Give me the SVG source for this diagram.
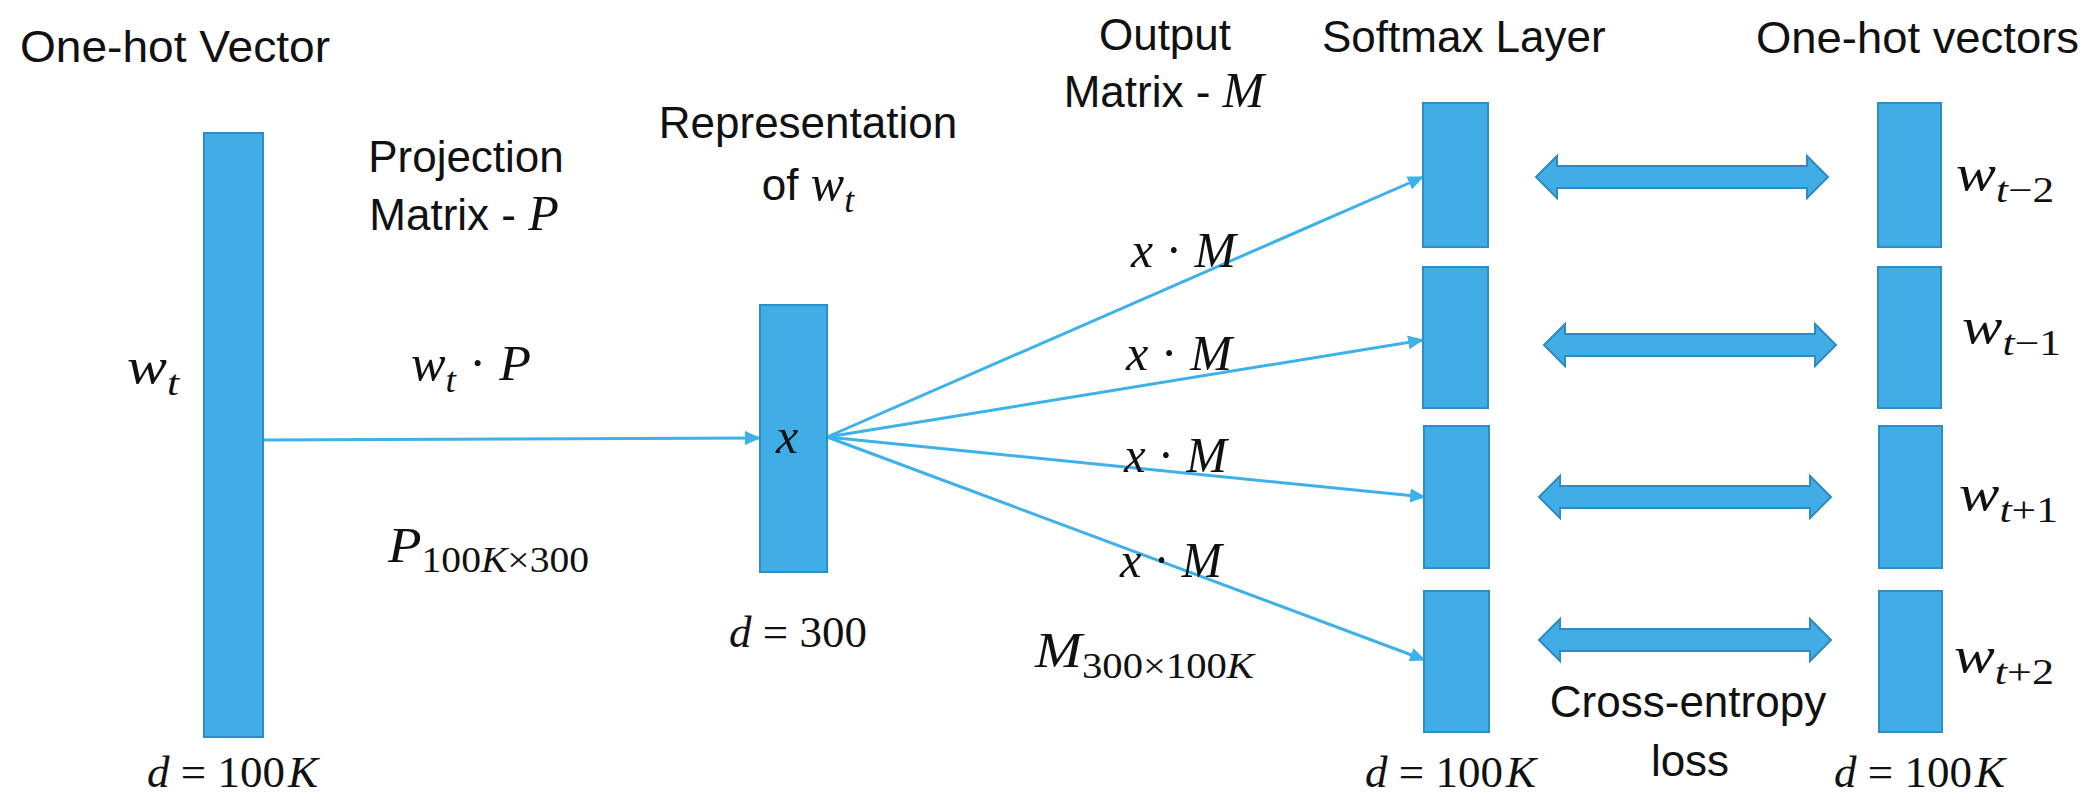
<svg xmlns="http://www.w3.org/2000/svg" width="2094" height="799" viewBox="0 0 2094 799">
  <style>
    .bar { fill: #41ADE6; stroke: #2F8DC5; stroke-width: 2; }
    .link { stroke: #3DB1EA; stroke-width: 3; fill: none; }
    .dbl { fill: #41ADE6; stroke: #2F8AC2; stroke-width: 2; stroke-linejoin: miter; }
    .lbl { font-family: "Liberation Sans", Arial, sans-serif; font-size: 44px; fill: #111; }
    .mth { font-family: "Liberation Serif", "Times New Roman", serif; font-size: 50px; fill: #111; }
    .dim { font-size: 45px; }
    .mi { font-style: italic; }
    .sub { font-size: 36px; }
  </style>
  <defs>
    <marker id="tip" markerUnits="userSpaceOnUse" markerWidth="16" markerHeight="14" refX="15" refY="7" orient="auto">
      <path d="M0,0 L16,7 L0,14 Z" fill="#3DB1EA"/>
    </marker>
    <path id="twoway" class="dbl" d="M0,0 L21,-21 L21,-11 L271,-11 L271,-21 L292,0 L271,21 L271,11 L21,11 L21,21 Z"/>
  </defs>

  <!-- connectors -->
  <g id="connectors">
    <line class="link" x1="264" y1="440" x2="760" y2="438" marker-end="url(#tip)"/>
    <line class="link" x1="827" y1="437" x2="1423" y2="177" marker-end="url(#tip)"/>
    <line class="link" x1="827" y1="437" x2="1423" y2="340" marker-end="url(#tip)"/>
    <line class="link" x1="827" y1="437" x2="1425" y2="497" marker-end="url(#tip)"/>
    <line class="link" x1="827" y1="437" x2="1425" y2="660" marker-end="url(#tip)"/>
    <use href="#twoway" x="1536" y="177"/>
    <use href="#twoway" x="1544" y="345"/>
    <use href="#twoway" x="1539" y="497"/>
    <use href="#twoway" x="1539" y="640"/>
  </g>

  <!-- input one-hot vector -->
  <g id="input">
    <text class="lbl" x="20" y="62" textLength="310" lengthAdjust="spacingAndGlyphs">One-hot Vector</text>
    <rect class="bar" x="204" y="133" width="59" height="604"/>
    <text class="mth mi" x="127" y="383" textLength="52" lengthAdjust="spacingAndGlyphs">w<tspan class="sub" dy="12">t</tspan></text>
    <text class="mth dim" x="147" y="787"><tspan class="mi">d</tspan> = 100<tspan class="mi" dx="3">K</tspan></text>
  </g>

  <!-- projection matrix -->
  <g id="projection">
    <text class="lbl" x="466" y="172" text-anchor="middle">Projection</text>
    <text class="lbl" x="464" y="230" text-anchor="middle">Matrix - <tspan class="mth mi">P</tspan></text>
    <text class="mth" x="411" y="380" textLength="120" lengthAdjust="spacingAndGlyphs"><tspan class="mi">w</tspan><tspan class="sub mi" dy="12">t</tspan><tspan dy="-12"> · </tspan><tspan class="mi">P</tspan></text>
    <text class="mth" x="388" y="562" textLength="201" lengthAdjust="spacingAndGlyphs"><tspan class="mi">P</tspan><tspan class="sub" dy="10">100<tspan class="mi">K</tspan>×300</tspan></text>
  </g>

  <!-- hidden representation -->
  <g id="hidden">
    <text class="lbl" x="808" y="138" text-anchor="middle">Representation</text>
    <text class="lbl" x="808" y="200" text-anchor="middle">of <tspan class="mth mi">w</tspan><tspan class="mth mi sub" dy="12">t</tspan></text>
    <rect class="bar" x="760" y="305" width="67" height="267"/>
    <text class="mth mi" x="776" y="453">x</text>
    <text class="mth dim" x="729" y="647"><tspan class="mi">d</tspan> = 300</text>
  </g>

  <!-- output matrix -->
  <g id="output-matrix">
    <text class="lbl" x="1165" y="50" text-anchor="middle">Output</text>
    <text class="lbl" x="1164" y="107" text-anchor="middle">Matrix - <tspan class="mth mi">M</tspan></text>
    <text class="mth" x="1131" y="267" textLength="105" lengthAdjust="spacingAndGlyphs"><tspan class="mi">x</tspan> · <tspan class="mi">M</tspan></text>
    <text class="mth" x="1126" y="370" textLength="106" lengthAdjust="spacingAndGlyphs"><tspan class="mi">x</tspan> · <tspan class="mi">M</tspan></text>
    <text class="mth" x="1124" y="472" textLength="103" lengthAdjust="spacingAndGlyphs"><tspan class="mi">x</tspan> · <tspan class="mi">M</tspan></text>
    <text class="mth" x="1120" y="577" textLength="102" lengthAdjust="spacingAndGlyphs"><tspan class="mi">x</tspan> · <tspan class="mi">M</tspan></text>
    <text class="mth" x="1035" y="667" textLength="219" lengthAdjust="spacingAndGlyphs"><tspan class="mi">M</tspan><tspan class="sub" dy="11">300×100<tspan class="mi">K</tspan></tspan></text>
  </g>

  <!-- softmax layer -->
  <g id="softmax">
    <text class="lbl" x="1322" y="52">Softmax Layer</text>
    <rect class="bar" x="1423" y="103" width="65" height="144"/>
    <rect class="bar" x="1423" y="267" width="65" height="141"/>
    <rect class="bar" x="1424" y="426" width="65" height="142"/>
    <rect class="bar" x="1424" y="591" width="65" height="141"/>
    <text class="mth dim" x="1365" y="787"><tspan class="mi">d</tspan> = 100<tspan class="mi" dx="3">K</tspan></text>
  </g>

  <!-- cross-entropy label -->
  <g id="loss">
    <text class="lbl" x="1688" y="717" text-anchor="middle">Cross-entropy</text>
    <text class="lbl" x="1690" y="776" text-anchor="middle">loss</text>
  </g>

  <!-- context one-hot vectors -->
  <g id="targets">
    <text class="lbl" x="1756" y="53" textLength="323" lengthAdjust="spacingAndGlyphs">One-hot vectors</text>
    <rect class="bar" x="1878" y="103" width="63" height="144"/>
    <rect class="bar" x="1878" y="267" width="63" height="141"/>
    <rect class="bar" x="1879" y="426" width="63" height="142"/>
    <rect class="bar" x="1879" y="591" width="63" height="141"/>
    <text class="mth" x="1956" y="190" textLength="98" lengthAdjust="spacingAndGlyphs"><tspan class="mi">w</tspan><tspan class="sub" dy="12"><tspan class="mi">t</tspan>−2</tspan></text>
    <text class="mth" x="1962" y="343" textLength="99" lengthAdjust="spacingAndGlyphs"><tspan class="mi">w</tspan><tspan class="sub" dy="12"><tspan class="mi">t</tspan>−1</tspan></text>
    <text class="mth" x="1959" y="510" textLength="99" lengthAdjust="spacingAndGlyphs"><tspan class="mi">w</tspan><tspan class="sub" dy="12"><tspan class="mi">t</tspan>+1</tspan></text>
    <text class="mth" x="1954" y="672" textLength="100" lengthAdjust="spacingAndGlyphs"><tspan class="mi">w</tspan><tspan class="sub" dy="12"><tspan class="mi">t</tspan>+2</tspan></text>
    <text class="mth dim" x="1834" y="787"><tspan class="mi">d</tspan> = 100<tspan class="mi" dx="3">K</tspan></text>
  </g>
</svg>
